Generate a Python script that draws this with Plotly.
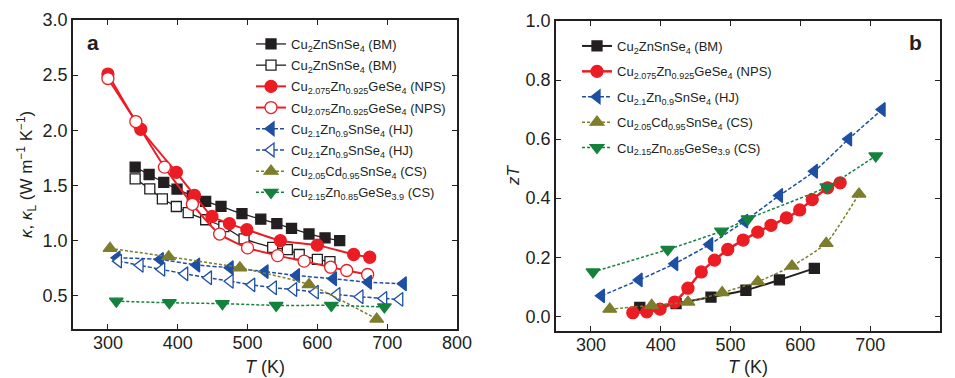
import plotly.graph_objects as go

# ---------------- Panel a: thermal conductivity ----------------
T_bm_k = [339, 359, 380, 399, 421, 440, 462, 492, 519, 542, 563, 588, 611, 632]
k_bm = [1.667, 1.60, 1.528, 1.468, 1.407, 1.356, 1.311, 1.245, 1.195, 1.155, 1.112, 1.061, 1.025, 1.0]

T_bm_kl = [339, 360, 378, 398, 415, 440, 466, 495, 536, 557, 574, 600, 618]
kl_bm = [1.56, 1.47, 1.38, 1.31, 1.255, 1.19, 1.127, 1.016, 0.94, 0.92, 0.875, 0.83, 0.81]

T_nps_k = [300, 347, 398, 424, 449, 474, 499, 547, 600, 652, 675]
k_nps = [2.51, 2.01, 1.62, 1.41, 1.22, 1.155, 1.10, 1.0, 0.96, 0.875, 0.85]

T_nps_kl = [300, 340, 381, 421, 460, 500, 543, 581, 619, 642, 672]
kl_nps = [2.47, 2.08, 1.667, 1.33, 1.06, 0.935, 0.865, 0.815, 0.76, 0.73, 0.694]

T_hj_k = [313, 375, 427, 475, 525, 570, 623, 673, 723]
k_hj = [0.845, 0.83, 0.78, 0.755, 0.72, 0.685, 0.655, 0.624, 0.61]

T_hj_kl = [315, 346, 377, 410, 444, 475, 506, 537, 566, 597, 628, 661, 695, 718]
kl_hj = [0.815, 0.777, 0.74, 0.70, 0.664, 0.633, 0.60, 0.574, 0.558, 0.534, 0.513, 0.492, 0.477, 0.468]

T_cd_k = [303, 387, 489, 588, 685]
k_cd = [0.93, 0.855, 0.755, 0.603, 0.29]

T_ge_k = [312, 388, 464, 541, 620, 696]
k_ge = [0.452, 0.438, 0.43, 0.414, 0.414, 0.40]

# ---------------- Panel b: zT ----------------
T_bm_zt = [370, 422, 472, 522, 570, 620]
zt_bm = [0.03, 0.043, 0.065, 0.088, 0.123, 0.162]

T_nps_zt = [360, 380, 399, 420, 439, 458, 477, 496, 518, 539, 558, 580, 599, 617, 639, 657]
zt_nps = [0.012, 0.015, 0.024, 0.048, 0.095, 0.15, 0.19, 0.226, 0.258, 0.285, 0.308, 0.333, 0.36, 0.395, 0.435, 0.452]

T_hj_zt = [315, 369, 420, 470, 520, 570, 620, 669, 717]
zt_hj = [0.069, 0.123, 0.178, 0.243, 0.322, 0.409, 0.491, 0.60, 0.70]

T_cd_zt = [327, 387, 439, 488, 539, 588, 637, 684]
zt_cd = [0.024, 0.037, 0.048, 0.08, 0.117, 0.17, 0.247, 0.414]

T_ge_zt = [303, 410, 487, 525, 638, 708]
zt_ge = [0.15, 0.226, 0.288, 0.33, 0.438, 0.543]

x_ticks = [300, 400, 500, 600, 700, 800]
ya_ticks = [0.5, 1.0, 1.5, 2.0, 2.5, 3.0]
yb_ticks = [0.0, 0.2, 0.4, 0.6, 0.8, 1.0]

# names
n_bm = "Cu<sub>2</sub>ZnSnSe<sub>4</sub> (BM)"
n_nps = "Cu<sub>2.075</sub>Zn<sub>0.925</sub>GeSe<sub>4</sub> (NPS)"
n_hj = "Cu<sub>2.1</sub>Zn<sub>0.9</sub>SnSe<sub>4</sub> (HJ)"
n_cd = "Cu<sub>2.05</sub>Cd<sub>0.95</sub>SnSe<sub>4</sub> (CS)"
n_ge = "Cu<sub>2.15</sub>Zn<sub>0.85</sub>GeSe<sub>3.9</sub> (CS)"

BLACK = "#231f20"
RED = "#ec1c24"
BLUE = "#1f4fa3"
OLIVE = "#7d7d2c"
GREEN = "#15823c"

fig = go.Figure()
_gid = [0]

def add(x, y, name, color, symbol, size, dash, width, fill, xa, ya, legend):
    _gid[0] += 1
    fig.add_trace(go.Scatter(
        x=x, y=y, name=name, mode="lines+markers",
        legendgroup="g%d" % _gid[0],
        line=dict(color=color, width=width, dash=dash, shape="spline", smoothing=0.5),
        marker=dict(symbol=symbol, size=size, color=fill,
                    line=dict(color=color, width=1.3)),
        xaxis=xa, yaxis=ya, legend=legend))

# panel a
add(T_bm_k, k_bm, n_bm, BLACK, "square", 10, "solid", 1.3, BLACK, "x", "y", "legend")
add(T_bm_kl, kl_bm, n_bm, BLACK, "square", 10, "solid", 1.3, "white", "x", "y", "legend")
add(T_nps_k, k_nps, n_nps, RED, "circle", 12, "solid", 2, RED, "x", "y", "legend")
add(T_nps_kl, kl_nps, n_nps, RED, "circle", 12, "solid", 2, "white", "x", "y", "legend")
add(T_hj_k, k_hj, n_hj, BLUE, "triangle-left", 12, "4px,2px", 1.5, BLUE, "x", "y", "legend")
add(T_hj_kl, kl_hj, n_hj, BLUE, "triangle-left", 12, "4px,2px", 1.5, "white", "x", "y", "legend")
add(T_cd_k, k_cd, n_cd, OLIVE, "triangle-up", 12, "3px,2px", 1.5, OLIVE, "x", "y", "legend")
add(T_ge_k, k_ge, n_ge, GREEN, "triangle-down", 12, "3px,2px", 1.5, GREEN, "x", "y", "legend")

# panel b
add(T_bm_zt, zt_bm, n_bm, BLACK, "square", 10, "solid", 2, BLACK, "x2", "y2", "legend2")
add(T_nps_zt, zt_nps, n_nps, RED, "circle", 12, "solid", 2.5, RED, "x2", "y2", "legend2")
add(T_hj_zt, zt_hj, n_hj, BLUE, "triangle-left", 12, "4px,2px", 1.5, BLUE, "x2", "y2", "legend2")
add(T_cd_zt, zt_cd, n_cd, OLIVE, "triangle-up", 12, "3px,2px", 1.5, OLIVE, "x2", "y2", "legend2")
add(T_ge_zt, zt_ge, n_ge, GREEN, "triangle-down", 12, "3px,2px", 1.5, GREEN, "x2", "y2", "legend2")

W, H = 955, 378
FONT = "Liberation Sans, Arial, sans-serif"

axis_common = dict(showline=True, linecolor=BLACK, linewidth=1.5, mirror="ticks",
                   ticks="inside", ticklen=5, tickwidth=1.3, tickcolor=BLACK,
                   showgrid=False, zeroline=False, automargin=False,
                   tickfont=dict(family=FONT, size=18, color=BLACK))

fig.update_layout(
    width=W, height=H, template="none",
    paper_bgcolor="white", plot_bgcolor="white",
    margin=dict(l=0, r=0, t=0, b=0),
    font=dict(family=FONT, color=BLACK),
    xaxis=dict(domain=[73 / W, 457 / W], range=[250, 800], tickvals=x_ticks, anchor="y",
               ticklabelstandoff=-3, **axis_common),
    yaxis=dict(domain=[1 - 329 / H, 1 - 20 / H], range=[0.2, 3.0], tickvals=ya_ticks,
               tickformat=".1f", anchor="x", **axis_common),
    xaxis2=dict(domain=[556 / W, 940 / W], range=[250, 800], tickvals=x_ticks, anchor="y2",
                ticklabelstandoff=-3, **axis_common),
    yaxis2=dict(domain=[1 - 331 / H, 1 - 21 / H], range=[-0.05, 1.0], tickvals=yb_ticks,
                tickformat=".1f", anchor="x2", **axis_common),
    legend=dict(x=251 / W, y=1 - 29 / H, xanchor="left", yanchor="top",
                bgcolor="rgba(0,0,0,0)", font=dict(family=FONT, size=13, color=BLACK),
                traceorder="grouped", tracegroupgap=1.3, itemwidth=30),
    legend2=dict(x=577 / W, y=1 - 31 / H, xanchor="left", yanchor="top",
                 bgcolor="rgba(0,0,0,0)", font=dict(family=FONT, size=13, color=BLACK),
                 traceorder="grouped", tracegroupgap=5.5, itemwidth=30),
    showlegend=True,
)

ann = [
    dict(text="<b>a</b>", x=93 / W, y=1 - 42 / H, font=dict(size=21)),
    dict(text="<b>b</b>", x=915 / W, y=1 - 42 / H, font=dict(size=21)),
    dict(text="<i>T</i> (K)", x=265 / W, y=1 - 367 / H, font=dict(size=18)),
    dict(text="<i>T</i> (K)", x=748 / W, y=1 - 367 / H, font=dict(size=18)),
    dict(text="<i>κ</i>, <i>κ</i><sub>L</sub> (W m<sup>−1</sup> K<sup>−1</sup>)", x=26 / W, y=1 - 175 / H,
         font=dict(size=17), textangle=-90),
    dict(text="<i>zT</i>", x=513 / W, y=1 - 175 / H, font=dict(size=17), textangle=-90),
]
for a in ann:
    fig.add_annotation(xref="paper", yref="paper", showarrow=False, xanchor="center", yanchor="middle",
                       **{k: v for k, v in a.items() if k != "font"},
                       font=dict(family=FONT, color=BLACK, **a["font"]))

fig.write_html("out.html", config={"displayModeBar": False},
               post_script="document.body.style.margin='0';document.body.style.padding='0';")
